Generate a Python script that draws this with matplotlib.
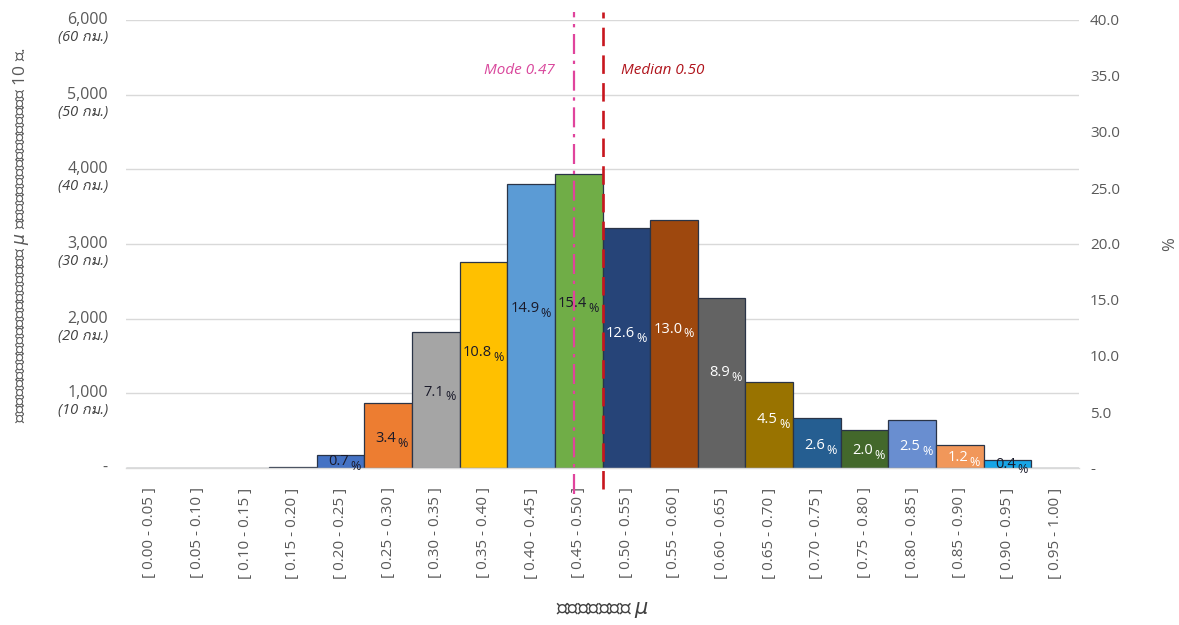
import os
import glob
import matplotlib
matplotlib.use("Agg")
import matplotlib.pyplot as plt
from matplotlib import font_manager
from matplotlib.ticker import FixedLocator

# ---- data -------------------------------------------------------------
bins = ["[ 0.00 - 0.05 ]", "[ 0.05 - 0.10 ]", "[ 0.10 - 0.15 ]", "[ 0.15 - 0.20 ]",
        "[ 0.20 - 0.25 ]", "[ 0.25 - 0.30 ]", "[ 0.30 - 0.35 ]", "[ 0.35 - 0.40 ]",
        "[ 0.40 - 0.45 ]", "[ 0.45 - 0.50 ]", "[ 0.50 - 0.55 ]", "[ 0.55 - 0.60 ]",
        "[ 0.60 - 0.65 ]", "[ 0.65 - 0.70 ]", "[ 0.70 - 0.75 ]", "[ 0.75 - 0.80 ]",
        "[ 0.80 - 0.85 ]", "[ 0.85 - 0.90 ]", "[ 0.90 - 0.95 ]", "[ 0.95 - 1.00 ]"]
percent = [0.0, 0.0, 0.0, 0.05, 0.7, 3.4, 7.1, 10.8, 14.9, 15.4,
           12.6, 13.0, 8.9, 4.5, 2.6, 2.0, 2.5, 1.2, 0.4, 0.0]
show_label = [False, False, False, False, True, True, True, True, True, True,
              True, True, True, True, True, True, True, True, True, False]
total_count = 25560
bar_colors = ["#4472C4", "#4472C4", "#4472C4", "#D0D0D0", "#4472C4", "#ED7D31",
              "#A5A5A5", "#FFC000", "#5B9BD5", "#70AD47", "#264478", "#9E480E",
              "#636363", "#997300", "#255E91", "#43682B", "#698ED0", "#F1975A",
              "#17A5E6", "#17A5E6"]
label_colors = ["k"] * 4 + ["#1a1a2a"] * 6 + ["white"] * 8 + ["#1a1a2a", "k"]

left_ticks = [0, 1000, 2000, 3000, 4000, 5000, 6000]
left_tick_labels = ["-", "1,000", "2,000", "3,000", "4,000", "5,000", "6,000"]
left_tick_km = ["", "(10 กม.)", "(20 กม.)", "(30 กม.)", "(40 กม.)", "(50 กม.)", "(60 กม.)"]
right_ticks = [0, 5, 10, 15, 20, 25, 30, 35, 40]
right_tick_labels = ["-", "5.0", "10.0", "15.0", "20.0", "25.0", "30.0", "35.0", "40.0"]

mode_value = 0.47
median_value = 0.50
bin_width = 0.05


# ---- fonts: look for an installed face that covers Thai ----------------
def covers_thai(path):
    try:
        from fontTools.ttLib import TTFont
        f = TTFont(path, fontNumber=0, lazy=True)
        cmap = f.getBestCmap()
        return bool(cmap) and ord("ก") in cmap and ord("ค") in cmap
    except Exception:
        return False


def find_thai_family():
    seen = set()
    paths = [e.fname for e in font_manager.fontManager.ttflist]
    roots = ["/usr/share/fonts", "/usr/local/share/fonts",
             os.path.expanduser("~/.fonts"), os.path.expanduser("~/.local/share/fonts")]
    for r in roots:
        for ext in ("ttf", "otf", "ttc", "TTF", "OTF"):
            paths += glob.glob(os.path.join(r, "**", "*." + ext), recursive=True)
    for p in paths:
        if p in seen:
            continue
        seen.add(p)
        if covers_thai(p):
            try:
                font_manager.fontManager.addfont(p)
                return font_manager.FontProperties(fname=p).get_name()
            except Exception:
                continue
    return None


thai = find_thai_family()
fam = ["Open Sans"] + ([thai] if thai else []) + ["DejaVu Sans"]
plt.rcParams["font.family"] = fam
plt.rcParams["mathtext.fontset"] = "dejavusans"

GRAY = "#595959"

# ---- figure -------------------------------------------------------------
fig = plt.figure(figsize=(11.79, 6.25), dpi=100)
ax = fig.add_axes([126 / 1179, 1 - 468 / 625, (1079 - 126) / 1179, (468 - 20) / 625])

x = list(range(len(bins)))
counts = [p / 100 * total_count for p in percent]
ax.bar(x, counts, width=1.0, color=bar_colors, edgecolor="#2a3447", linewidth=0.9,
       zorder=3)

ax.set_xlim(-0.5, len(bins) - 0.5)
ax.set_ylim(0, 6000)

# grid and frame
ax.yaxis.set_major_locator(FixedLocator(left_ticks))
ax.grid(axis="y", color="#d9d9d9", linewidth=1.0, zorder=0)
for s in ["top", "right", "left"]:
    ax.spines[s].set_visible(False)
ax.spines["bottom"].set_color("#d9d9d9")
ax.spines["bottom"].set_linewidth(1.0)
ax.spines["bottom"].set_zorder(4)

# x ticks
ax.set_xticks(x)
ax.set_xticklabels(bins, rotation=90, color=GRAY, fontsize=11)
ax.tick_params(axis="x", length=0, pad=14)

# left ticks: value plus distance in italics beneath
ax.set_yticklabels([])
ax.tick_params(axis="y", length=0)
for v, lab, km in zip(left_ticks, left_tick_labels, left_tick_km):
    ax.annotate(lab, xy=(0, v), xycoords=("axes fraction", "data"),
                xytext=(-13, 0), textcoords="offset points", ha="right", va="center",
                fontsize=11.5, color=GRAY)
    if km:
        ax.annotate(km, xy=(0, v), xycoords=("axes fraction", "data"),
                    xytext=(-13, -12.5), textcoords="offset points", ha="right",
                    va="center", fontsize=10.5, color="#404040", style="italic")

ax.set_ylabel("จำนวนของการแจกแจงค่า $\\mu$ เฉลี่ยต่อระยะทาง 10 ม.", fontsize=12.5,
              color=GRAY)
ax.yaxis.set_label_coords(-0.1, 0.52)

# axis title under the rotated category labels
fig.text(0.5 * (126 + 1079) / 1179, 1 - 610 / 625, "ช่วงค่า $\\mu$", fontsize=15,
         color="#404040", style="italic", ha="center", va="center")

# right axis (percent)
ax2 = ax.twinx()
ax2.set_ylim(0, 40)
ax2.set_yticks(right_ticks)
ax2.set_yticklabels(right_tick_labels, color=GRAY, fontsize=11)
ax2.tick_params(axis="y", length=0, pad=8)
for s in ax2.spines.values():
    s.set_visible(False)
ax2.set_ylabel("%", fontsize=12, color=GRAY, labelpad=30)

# value labels inside the bars
for xi, c, p, show, col in zip(x, counts, percent, show_label, label_colors):
    if not show:
        continue
    frac = 0.56 if c > 1000 else 0.45
    y = c * frac
    ax.annotate(f"{p:.1f}", xy=(xi, y), xytext=(6, 0), textcoords="offset points",
                ha="right", va="center", fontsize=10.5, color=col, zorder=6)
    ax.annotate("%", xy=(xi, y), xytext=(7, -3.5), textcoords="offset points",
                ha="left", va="center", fontsize=9, color=col, zorder=6)


def to_bar_coord(v):
    return v / bin_width - 0.5


# mode and median markers
ax.axvline(to_bar_coord(mode_value), ymin=-0.058, ymax=1.018, color="#E0449C",
           linestyle=(0, (9, 3, 1.5, 3)), linewidth=1.6, clip_on=False, zorder=7)
ax.axvline(to_bar_coord(median_value), ymin=-0.047, ymax=1.018, color="#C8161E",
           linestyle=(0, (7, 3.5)), linewidth=1.9, clip_on=False, zorder=7)

ax.annotate(f"Mode {mode_value:.2f}", xy=(to_bar_coord(mode_value), 5330),
            xytext=(-14, 0), textcoords="offset points", ha="right", va="center",
            fontsize=11, color="#D9479C", style="italic")
ax.annotate(f"Median {median_value:.2f}", xy=(to_bar_coord(median_value), 5330),
            xytext=(13, 0), textcoords="offset points", ha="left", va="center",
            fontsize=11, color="#B0141C", style="italic")

fig.savefig("out.png", dpi=100)
